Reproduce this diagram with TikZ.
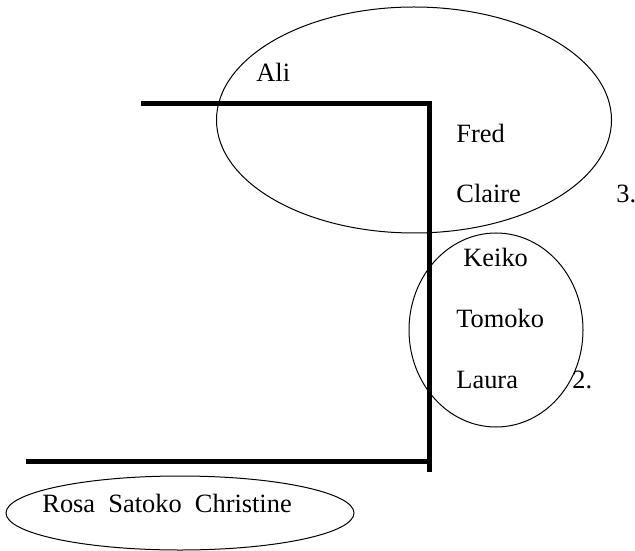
\documentclass[tikz,border=0pt]{standalone}
\usepackage{fontspec}
\setmainfont{Liberation Serif}
\usetikzlibrary{positioning, shapes.geometric}

\begin{document}
\begin{tikzpicture}[
  x=0.5pt, y=-0.5pt,
  person/.style={anchor=base west, inner sep=0pt,
    font=\fontsize{13.2}{15}\selectfont},
  group/.style={draw, ellipse, inner sep=0pt, line width=0.5pt},
  bar/.style={line width=2.5pt}
]
\useasboundingbox (0,0) rectangle (635,550);

\node[group, minimum width=197.5pt, minimum height=113pt] (grpthree) at (414,120) {};
\node[group, minimum width=87pt, minimum height=97pt] (grptwo) at (496,330) {};
\node[group, minimum width=174pt, minimum height=37pt] (grpone) at (180,513) {};

\coordinate (topleft) at (141,104);
\coordinate (corner) at (429,104);
\coordinate (foot) at (429,472);
\coordinate (floorleft) at (26,461);
\coordinate (floorright) at (429,461);
\draw[bar] (topleft) -- (corner) -- (foot);
\draw[bar] (floorleft) -- (floorright);

\node[person] (ali) at (256,82) {Ali};
\node[person] (fred) at (456,143) {Fred};
\node[person, below=30pt of fred.base west, anchor=base west] (claire) {Claire};
\node[person] (three) at (616,203) {3.};
\node[person] (keiko) at (463,266) {Keiko};
\node[person] (tomoko) at (456,327) {Tomoko};
\node[person, below=30.5pt of tomoko.base west, anchor=base west] (laura) {Laura};
\node[person] (two) at (572,388) {2.};
\node[person] (rosa) at (42,512) {Rosa\ \ Satoko\ \ Christine};
\end{tikzpicture}
\end{document}
